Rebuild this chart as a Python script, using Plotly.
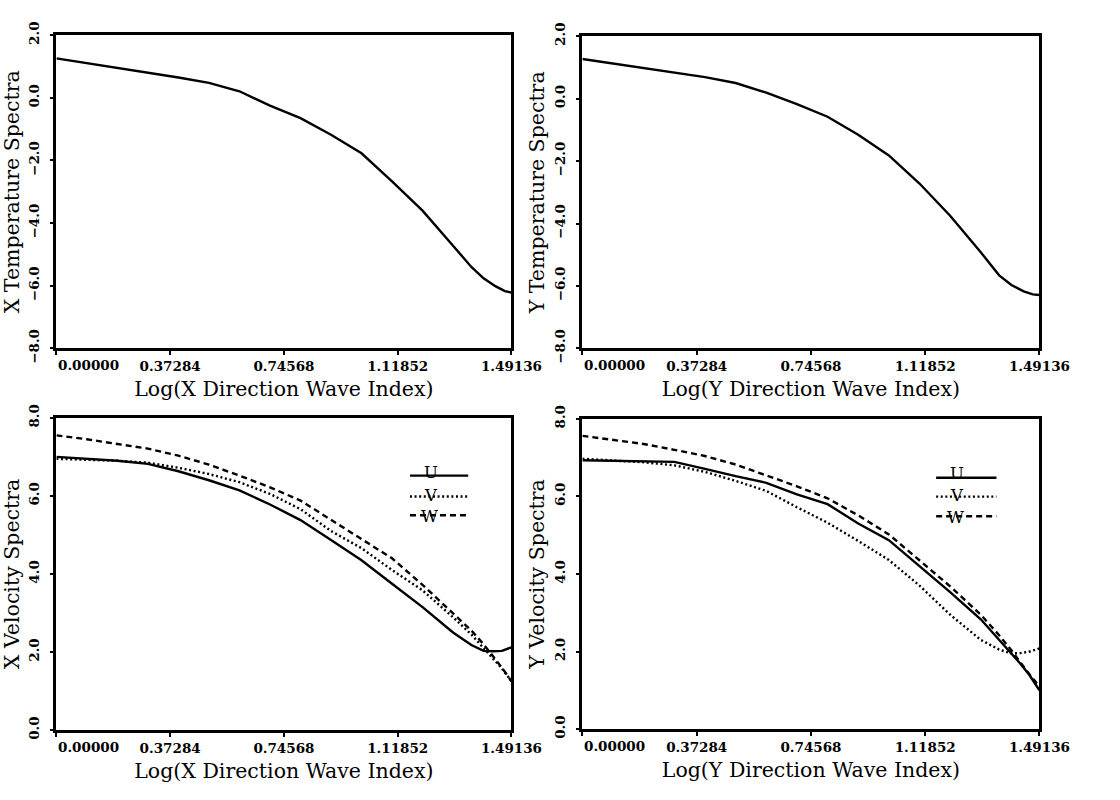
import plotly.graph_objects as go

# ---------------- data ----------------
LOG_WAVE_T = [0.0, 0.10, 0.20, 0.30, 0.40, 0.50, 0.60, 0.70, 0.80, 0.90, 1.00,
              1.10, 1.20, 1.30, 1.36, 1.40, 1.44, 1.47, 1.49136]
TEMP_X = [1.26, 1.11, 0.96, 0.79, 0.65, 0.48, 0.21, -0.25, -0.65, -1.18, -1.77,
          -2.67, -3.60, -4.72, -5.40, -5.76, -6.02, -6.17, -6.22]
TEMP_Y = [1.27, 1.13, 0.99, 0.83, 0.69, 0.50, 0.19, -0.18, -0.58, -1.16, -1.82,
          -2.72, -3.75, -4.92, -5.66, -5.97, -6.17, -6.27, -6.29]

LOG_WAVE_V = [0.0, 0.10, 0.20, 0.30, 0.40, 0.50, 0.60, 0.70, 0.80, 0.90, 1.00,
              1.10, 1.20, 1.30, 1.36, 1.40, 1.43, 1.46, 1.49136]
U_X = [7.00, 6.95, 6.90, 6.82, 6.63, 6.40, 6.14, 5.78, 5.38, 4.87, 4.35,
       3.75, 3.15, 2.50, 2.18, 2.03, 2.02, 2.03, 2.12]
V_X = [6.95, 6.92, 6.90, 6.85, 6.72, 6.56, 6.35, 6.05, 5.66, 5.10, 4.66,
       4.10, 3.58, 2.89, 2.45, 2.10, 1.85, 1.58, 1.25]
W_X = [7.55, 7.45, 7.33, 7.21, 7.03, 6.80, 6.52, 6.22, 5.88, 5.38, 4.88,
       4.40, 3.72, 3.00, 2.55, 2.20, 1.90, 1.60, 1.25]

U_Y = [6.93, 6.92, 6.91, 6.89, 6.71, 6.52, 6.35, 6.05, 5.80, 5.30, 4.87,
       4.20, 3.53, 2.83, 2.30, 1.96, 1.68, 1.38, 1.00]
V_Y = [6.97, 6.93, 6.88, 6.80, 6.63, 6.40, 6.14, 5.72, 5.32, 4.85, 4.36,
       3.70, 2.95, 2.30, 2.05, 1.95, 1.96, 2.00, 2.08]
W_Y = [7.56, 7.45, 7.35, 7.20, 7.04, 6.82, 6.55, 6.26, 5.95, 5.51, 5.02,
       4.36, 3.68, 2.95, 2.42, 2.03, 1.70, 1.40, 1.10]

X_TICKS = [0.0, 0.37284, 0.74568, 1.11852, 1.49136]
X_TICK_TEXT = ["", "0.37284", "0.74568", "1.11852", "1.49136"]
FIRST_X_LABEL = "0.00000"
T_TICKS = [-8, -6, -4, -2, 0, 2]
T_TICK_TEXT = ["\u22128.0", "\u22126.0", "\u22124.0", "\u22122.0", "0.0", "2.0"]
V_TICKS = [0, 2, 4, 6, 8]
V_TICK_TEXT = ["0.0", "2.0", "4.0", "6.0", "8.0"]
LEGEND_NAMES = ["U", "V", "W"]

# ---------------- layout helpers ----------------
W, H = 1120, 800
SERIF = "DejaVu Serif"
TICKFONT = dict(family=SERIF, size=13.5, color="black", weight="bold")
TITLEFONT = dict(family=SERIF, size=20.5, color="black")

def dom_x(a, b):
    return [a / W, b / W]

def dom_y(top, bottom):
    return [1 - bottom / H, 1 - top / H]

PANELS = {
    "": dict(x=dom_x(58, 526), y=dom_y(22, 347)),
    "2": dict(x=dom_x(599, 1069), y=dom_y(23, 347)),
    "3": dict(x=dom_x(58, 526), y=dom_y(419, 743)),
    "4": dict(x=dom_x(599, 1069), y=dom_y(420, 742)),
}

def xaxis_cfg(k, title):
    return dict(domain=PANELS[k]["x"], anchor="y" + k, range=[0, 1.49136],
                tickmode="array", tickvals=X_TICKS, ticktext=X_TICK_TEXT,
                ticks="outside", ticklen=4, tickwidth=1.5, tickcolor="black",
                showline=True, mirror=True, linewidth=2.6, linecolor="black",
                showgrid=False, zeroline=False, tickfont=TICKFONT,
                title=dict(text=title, font=TITLEFONT, standoff=9))

def yaxis_cfg(k, rng, tv, tt, title):
    return dict(domain=PANELS[k]["y"], anchor="x" + k, range=rng,
                tickmode="array", tickvals=tv, ticktext=tt, tickangle=-90,
                ticks="outside", ticklen=4, tickwidth=1.5, tickcolor="black",
                ticklabelstandoff=5,
                showline=True, mirror=True, linewidth=2.6, linecolor="black",
                showgrid=False, zeroline=False, tickfont=TICKFONT,
                title=dict(text=title, font=TITLEFONT, standoff=3))

fig = go.Figure()

LINE = dict(color="black", width=2.4)
fig.add_trace(go.Scatter(x=LOG_WAVE_T, y=TEMP_X, mode="lines", line=LINE,
                         xaxis="x", yaxis="y", showlegend=False))
fig.add_trace(go.Scatter(x=LOG_WAVE_T, y=TEMP_Y, mode="lines", line=LINE,
                         xaxis="x2", yaxis="y2", showlegend=False))

STYLES = [dict(color="black", width=2.4),
          dict(color="black", width=2.4, dash="2px,2.6px"),
          dict(color="black", width=2.4, dash="6px,4px")]
for k, series in (("3", (U_X, V_X, W_X)), ("4", (U_Y, V_Y, W_Y))):
    for name, ys, st in zip(LEGEND_NAMES, series, STYLES):
        fig.add_trace(go.Scatter(x=LOG_WAVE_V, y=ys, mode="lines", line=st, name=name,
                                 xaxis="x" + k, yaxis="y" + k, showlegend=False))

layout = dict(width=W, height=H, margin=dict(l=0, r=0, t=0, b=0),
              paper_bgcolor="white", plot_bgcolor="white", showlegend=False)
layout["xaxis"] = xaxis_cfg("", "Log(X Direction Wave Index)")
layout["yaxis"] = yaxis_cfg("", [-8, 2], T_TICKS, T_TICK_TEXT, "X Temperature Spectra")
layout["xaxis2"] = xaxis_cfg("2", "Log(Y Direction Wave Index)")
layout["yaxis2"] = yaxis_cfg("2", [-8, 2], T_TICKS, T_TICK_TEXT, "Y Temperature Spectra")
layout["xaxis3"] = xaxis_cfg("3", "Log(X Direction Wave Index)")
layout["yaxis3"] = yaxis_cfg("3", [0, 8], V_TICKS, V_TICK_TEXT, "X Velocity Spectra")
layout["xaxis4"] = xaxis_cfg("4", "Log(Y Direction Wave Index)")
layout["yaxis4"] = yaxis_cfg("4", [0, 8], V_TICKS, V_TICK_TEXT, "Y Velocity Spectra")
fig.update_layout(**layout)

# first x tick label, left-aligned at the axis origin as in the original
for k in ("", "2", "3", "4"):
    fig.add_annotation(x=X_TICKS[0], xref="x" + k, y=0, yref="y%s domain" % k,
                       text=FIRST_X_LABEL, showarrow=False, xanchor="left",
                       yanchor="top", yshift=-7, font=TICKFONT)

# legends inside the velocity panels
LEG = {"3": dict(x0=0.777, x1=0.905, xc=0.841, lines=[0.815, 0.748, 0.688], letters=[0.860, 0.786, 0.717]),
       "4": dict(x0=0.774, x1=0.906, xc=0.838, lines=[0.810, 0.749, 0.686], letters=[0.856, 0.786, 0.717])}
for k, g in LEG.items():
    for name, st, ly, ty in zip(LEGEND_NAMES, STYLES, g["lines"], g["letters"]):
        fig.add_shape(type="line", xref="x%s domain" % k, yref="y%s domain" % k,
                      x0=g["x0"], x1=g["x1"], y0=ly, y1=ly,
                      line=dict(color="black", width=2.4, dash=st.get("dash", "solid")))
        fig.add_annotation(xref="x%s domain" % k, yref="y%s domain" % k, x=g["xc"], y=ty,
                           text=name, showarrow=False, borderpad=0,
                           font=dict(family=SERIF, size=16.5, color="black"))

fig.write_html("out.html")
